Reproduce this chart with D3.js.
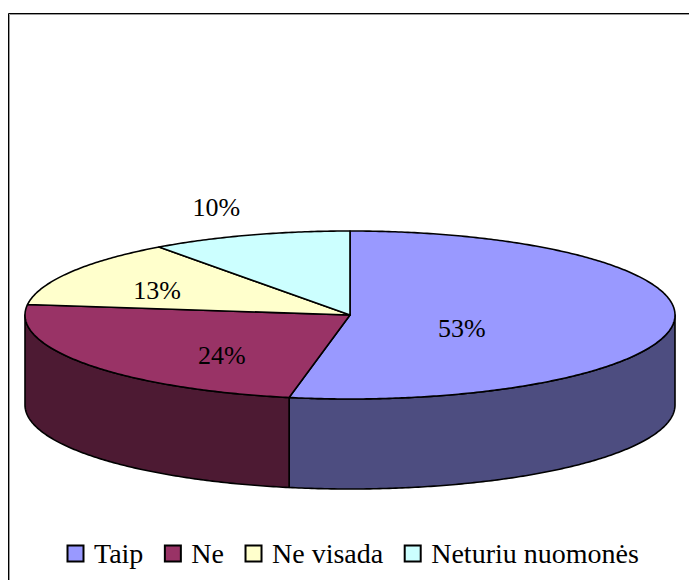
<!DOCTYPE html>
<html>
<head>
<meta charset="utf-8">
<script src="https://cdn.jsdelivr.net/npm/d3@7"></script>
<style>
    html, body { margin: 0; padding: 0; background: #fff; }
    svg { display: block; }
    text { font-family: 'Times New Roman', Times, 'Liberation Serif', 'Noto Serif', 'DejaVu Serif', serif; fill: #000; }
</style>
</head>
<body>
<svg id="chart" width="689" height="580"></svg>
<script>
// chart data
var categories = ['Taip', 'Ne', 'Ne visada', 'Neturiu nuomonės'];
var values = [53, 24, 13, 10];
var labels = ['53%', '24%', '13%', '10%'];
var topColors = ['#9999ff', '#993366', '#ffffcc', '#ccffff'];
var sideColors = ['#4d4d80', '#4d1a33', '#80805c', '#5c8080'];

// layout
var cx = 350, cy = 315, rx = 325, ry = 84, depth = 90;
// where each percent label sits, as a fraction of the radii
var labelFrac = [[0.346, 1.65], [0.487, 0.81], [0.69, 0.585], [1.33, 1.35]];

var svg = d3.select('#chart');

// frame
svg.append('path')
    .attr('d', 'M9.5,700 L9.5,14.5 L700,14.5')
    .attr('fill', 'none')
    .attr('stroke', '#9a9a9a')
    .attr('stroke-width', 1);
svg.append('path')
    .attr('d', 'M8.5,700 L8.5,13.5 L700,13.5')
    .attr('fill', 'none')
    .attr('stroke', '#000')
    .attr('stroke-width', 1);

var pie = d3.pie().sort(null).value(function (d) { return d; });
var arcs = pie(values);

// point on the top ellipse for a parametric angle (0 = top, clockwise)
function pt(a, dy) {
    return [cx + rx * Math.sin(a), cy - ry * Math.cos(a) + (dy || 0)];
}

function arcPoints(a0, a1, dy) {
    var n = Math.max(2, Math.ceil(Math.abs(a1 - a0) / 0.01));
    return d3.range(n + 1).map(function (i) {
        return pt(a0 + (a1 - a0) * i / n, dy);
    });
}

var line = d3.line();

// outer walls: only the front half (pi/2 .. 3pi/2) is visible
var sides = svg.append('g');
arcs.forEach(function (d, i) {
    var a0 = Math.max(d.startAngle, Math.PI / 2);
    var a1 = Math.min(d.endAngle, Math.PI * 1.5);
    if (a1 <= a0) {
        return;
    }
    var pts = arcPoints(a0, a1, 0).concat(arcPoints(a1, a0, depth));
    sides.append('path')
        .attr('d', line(pts) + 'Z')
        .attr('fill', sideColors[i])
        .attr('stroke', '#000')
        .attr('stroke-width', 1.6)
        .attr('stroke-linejoin', 'round');
});

// top faces
var tops = svg.append('g');
arcs.forEach(function (d, i) {
    var pts = [[cx, cy]].concat(arcPoints(d.startAngle, d.endAngle, 0));
    tops.append('path')
        .attr('d', line(pts) + 'Z')
        .attr('fill', topColors[i])
        .attr('stroke', '#000')
        .attr('stroke-width', 1.6)
        .attr('stroke-linejoin', 'round');
});

// percent labels
arcs.forEach(function (d, i) {
    var mid = (d.startAngle + d.endAngle) / 2;
    var x = cx + rx * labelFrac[i][0] * Math.sin(mid);
    var y = cy - ry * labelFrac[i][1] * Math.cos(mid);
    svg.append('text')
        .attr('x', x)
        .attr('y', y)
        .attr('dy', '0.35em')
        .attr('text-anchor', 'middle')
        .attr('font-size', 26)
        .text(labels[i]);
});

// legend
var legend = svg.append('g').attr('transform', 'translate(67,545)');
var lx = 0;
categories.forEach(function (c, i) {
    legend.append('rect')
        .attr('x', lx + 0.5)
        .attr('y', 0.5)
        .attr('width', 16)
        .attr('height', 16)
        .attr('fill', topColors[i])
        .attr('stroke', '#000')
        .attr('stroke-width', 2);
    var t = legend.append('text')
        .attr('x', lx + 27)
        .attr('y', 18)
        .attr('font-size', 28)
        .text(c);
    lx += 27 + t.node().getComputedTextLength() + 21;
});
</script>
</body>
</html>
